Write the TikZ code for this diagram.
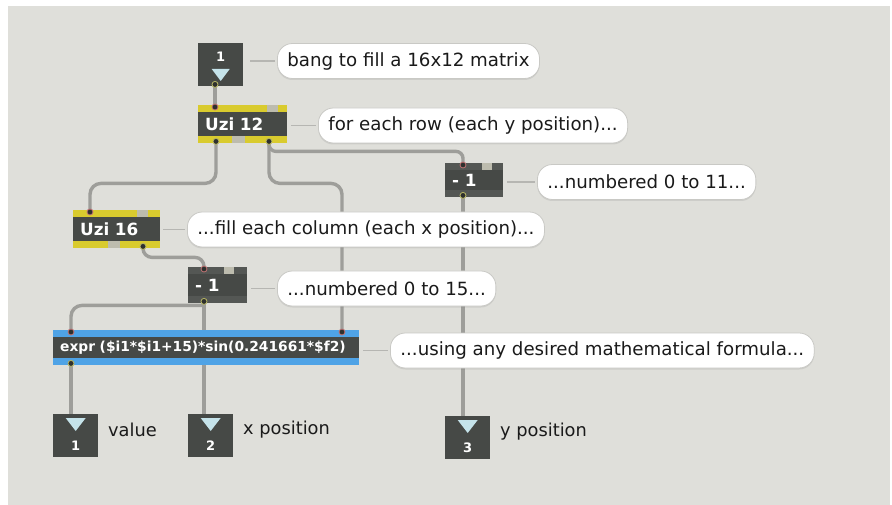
\documentclass[tikz,border=0pt]{standalone}
\usepackage{fontspec}
\setmainfont{DejaVu Sans}
\usetikzlibrary{shadows}

\definecolor{patchbg}{HTML}{DFDFDA}
\definecolor{boxdark}{HTML}{464946}
\definecolor{boxband}{HTML}{545754}
\definecolor{uziyellow}{HTML}{D9CB2E}
\definecolor{exprblue}{HTML}{4FA3E6}
\definecolor{cablegrey}{HTML}{9E9E9A}
\definecolor{hairgrey}{HTML}{B6B6B2}
\definecolor{bubbleedge}{HTML}{C9C9C5}
\definecolor{triblue}{HTML}{C5E3EA}
\definecolor{notchgrey}{HTML}{BDBCAE}
\definecolor{nubdark}{HTML}{2E302E}
\definecolor{nubinc}{HTML}{C27474}
\definecolor{nuboutc}{HTML}{B9B865}
\definecolor{labelink}{HTML}{1A1A1A}

\pgfdeclarelayer{patchbglayer}
\pgfdeclarelayer{cords}
\pgfsetlayers{patchbglayer,cords,main}

\tikzset{
  maxbox/.style={fill=boxdark, text=white, anchor=north west, inner xsep=7pt,
    inner ysep=0pt, align=left, font=\bfseries\fontsize{16.8}{18}\selectfont},
  bandfill/.style={path picture={
    \fill[#1] (path picture bounding box.north west) rectangle
      ([yshift=-7pt]path picture bounding box.north east);
    \fill[#1] ([yshift=7pt]path picture bounding box.south west) rectangle
      (path picture bounding box.south east);}},
  portbox/.style={fill=boxdark, anchor=north west, minimum width=45pt,
    minimum height=43pt, inner sep=0pt},
  portnum/.style={text=white, inner sep=0pt, font=\bfseries\fontsize{13}{14}\selectfont},
  cable/.style={draw=cablegrey, line width=3.4pt, rounded corners=11pt},
  hairline/.style={draw=hairgrey, line width=1.4pt},
  bubble/.style={fill=white, draw=bubbleedge, line width=0.8pt, rounded corners=15pt,
    minimum height=35pt, inner xsep=10pt, inner ysep=0pt, anchor=west,
    text=labelink, font=\fontsize{18.2}{20}\selectfont,
    drop shadow={shadow xshift=0pt, shadow yshift=-1.5pt, opacity=0.18}},
  portlabel/.style={anchor=west, inner sep=0pt, text=labelink,
    font=\fontsize{17.8}{19}\selectfont},
  nubin/.style={fill=nubdark, draw=nubinc, line width=0.8pt},
  nubout/.style={fill=nubdark, draw=nuboutc, line width=0.8pt},
  notch/.style={fill=notchgrey}
}

\begin{document}
\begin{tikzpicture}[x=1pt, y=-1pt]
\useasboundingbox (0,0) rectangle (892,505);
\begin{pgfonlayer}{patchbglayer}
  \fill[white] (0,0) rectangle (892,505);
  \fill[patchbg] (8,6) rectangle (890,505);
\end{pgfonlayer}

% ---- objects ----
\node[portbox] (in1) at (198,43) {};
\node[portnum] (in1num) at ([yshift=-14pt]in1.north) {1};
\fill[triblue] ([xshift=-9pt,yshift=-26pt]in1.north) -- ([xshift=9pt,yshift=-26pt]in1.north)
  -- ([yshift=-38pt]in1.north) -- cycle;

\node[maxbox, bandfill=uziyellow, text width=75pt, minimum height=38pt] (uzi12) at (198,105) {Uzi 12};
\node[maxbox, bandfill=uziyellow, text width=73pt, minimum height=38pt] (uzi16) at (73,210) {Uzi 16};
\node[maxbox, bandfill=boxband, text width=44pt, minimum height=34pt] (minusy) at (445,163) {- 1};
\node[maxbox, bandfill=boxband, text width=45pt, minimum height=36pt] (minusx) at (188,267) {- 1};
\node[maxbox, bandfill=exprblue, text width=292pt, minimum height=35pt,
      font=\bfseries\fontsize{13.8}{15}\selectfont] (expr) at (53,330)
      {expr (\$i1*\$i1+15)*sin(0.241661*\$f2)};

\foreach \o/\x/\y/\n in {out1/53/414/1, out2/188/414/2, out3/445/416/3}{
  \node[portbox] (\o) at (\x,\y) {};
  \fill[triblue] ([xshift=-10pt,yshift=-4pt]\o.north) -- ([xshift=10pt,yshift=-4pt]\o.north)
    -- ([yshift=-17pt]\o.north) -- cycle;
  \node[portnum] (\o num) at ([yshift=12pt]\o.south) {\n};
}

% unused inlet/outlet notches
\fill[notch] (267,105) rectangle (278,112);
\fill[notch] (232,136) rectangle (245,143);
\fill[notch] (137,210) rectangle (148,217);
\fill[notch] (108,241) rectangle (120,248);
\fill[notch] (482,163) rectangle (492,170);
\fill[notch] (224,267) rectangle (234,274);

% ---- patch cords ----
\begin{pgfonlayer}{cords}
  \draw[cable] ([xshift=17pt]in1.south west) -- ([xshift=17pt]uzi12.north west);
  \draw[cable] ([xshift=18pt]uzi12.south west) -- ++(0,40) -| ([xshift=17pt]uzi16.north west);
  \draw[cable, rounded corners=7pt] ([xshift=71pt]uzi12.south west) -- ++(0,8) -| ([xshift=18pt]minusy.north west);
  \draw[cable] ([xshift=71pt]uzi12.south west) -- ++(0,40) -| ([xshift=289pt]expr.north west);
  \draw[cable, rounded corners=9pt] ([xshift=70pt]uzi16.south west) -- ++(0,9) -| ([xshift=16pt]minusx.north west);
  \draw[cable] ([xshift=16pt]minusx.south west) -- ([xshift=16pt]out2.north west);
  \draw[cable] ([xshift=16pt,yshift=-2pt]minusx.south west) -| ([xshift=18pt]expr.north west);
  \draw[cable] ([xshift=18pt]expr.south west) -- ([xshift=18pt]out1.north west);
  \draw[cable] ([xshift=18pt]minusy.south west) -- ([xshift=18pt]out3.north west);
\end{pgfonlayer}

% ---- inlet / outlet nubs ----
\draw[nubout] ([xshift=17pt,yshift=2pt]in1.south west) circle (3pt);
\draw[nubin]  ([xshift=17pt,yshift=-2pt]uzi12.north west) circle (3pt);
\draw[nubout] ([xshift=18pt,yshift=2pt]uzi12.south west) circle (3pt);
\draw[nubout] ([xshift=71pt,yshift=2pt]uzi12.south west) circle (3pt);
\draw[nubin]  ([xshift=17pt,yshift=-2pt]uzi16.north west) circle (3pt);
\draw[nubout] ([xshift=70pt,yshift=2pt]uzi16.south west) circle (3pt);
\draw[nubin]  ([xshift=18pt,yshift=-2pt]minusy.north west) circle (3pt);
\draw[nubout] ([xshift=18pt,yshift=2pt]minusy.south west) circle (3pt);
\draw[nubin]  ([xshift=16pt,yshift=-2pt]minusx.north west) circle (3pt);
\draw[nubout] ([xshift=16pt,yshift=2pt]minusx.south west) circle (3pt);
\draw[nubin]  ([xshift=18pt,yshift=-2pt]expr.north west) circle (3pt);
\draw[nubin]  ([xshift=289pt,yshift=-2pt]expr.north west) circle (3pt);
\draw[nubout] ([xshift=18pt,yshift=2pt]expr.south west) circle (3pt);

% ---- comments ----
\node[bubble] (b1) at (277,61) {bang to fill a 16x12 matrix};
\node[bubble] (b2) at (318,125.5) {for each row (each y position)...};
\node[bubble] (b3) at (537,182) {...numbered 0 to 11...};
\node[bubble] (b4) at (187,229.5) {...fill each column (each x position)...};
\node[bubble] (b5) at (277,288.5) {...numbered 0 to 15...};
\node[bubble] (b6) at (390,350.5) {...using any desired mathematical formula...};

\draw[hairline] ([xshift=7pt]in1.east |- b1.west) -- ([xshift=-2pt]b1.west);
\draw[hairline] ([xshift=4pt]uzi12.east |- b2.west) -- ([xshift=-2pt]b2.west);
\draw[hairline] ([xshift=4pt]minusy.east |- b3.west) -- ([xshift=-2pt]b3.west);
\draw[hairline] ([xshift=3pt]uzi16.east |- b4.west) -- ([xshift=-2pt]b4.west);
\draw[hairline] ([xshift=4pt]minusx.east |- b5.west) -- ([xshift=-2pt]b5.west);
\draw[hairline] ([xshift=4pt]expr.east |- b6.west) -- ([xshift=-2pt]b6.west);

% ---- outlet labels ----
\node[portlabel] (lab1) at (108,430) {value};
\node[portlabel] (lab2) at (243,430) {x position};
\node[portlabel] (lab3) at (500,432) {y position};
\end{tikzpicture}
\end{document}
